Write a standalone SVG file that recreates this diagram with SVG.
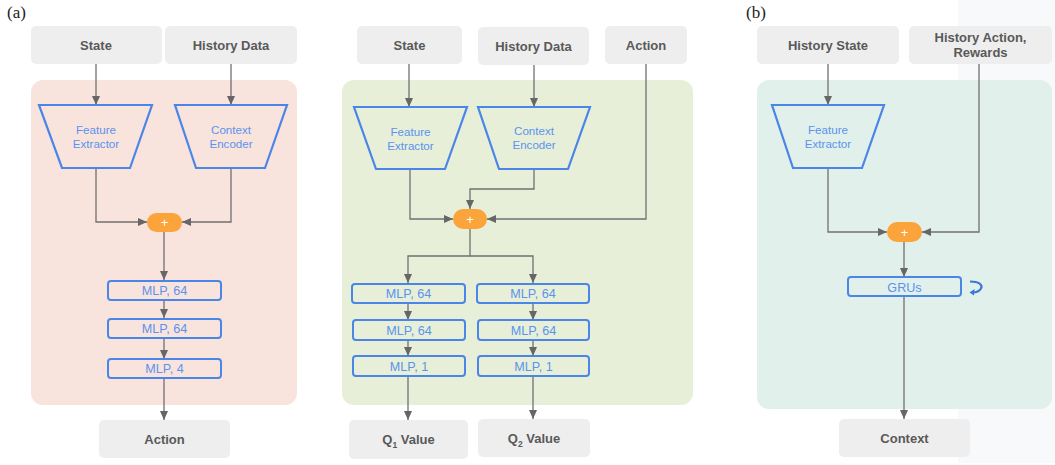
<svg xmlns="http://www.w3.org/2000/svg" width="1055" height="465" viewBox="0 0 1055 465">
<defs>
<marker id="ah" markerUnits="userSpaceOnUse" markerWidth="10" markerHeight="10" refX="9" refY="5" orient="auto">
<path d="M0,1 L9,5 L0,9 Z" fill="#666"/>
</marker>
<style>
.io{fill:#eeeeee;}
.iot{font-family:"Liberation Sans",Arial,sans-serif;font-weight:bold;font-size:13px;fill:#595959;text-anchor:middle;}
.trap{fill:none;stroke:#4a86e8;stroke-width:2.2;stroke-linejoin:miter;}
.bt{font-family:"Liberation Sans",Arial,sans-serif;font-size:11.6px;fill:#5b93ee;text-anchor:middle;}
.mlp{fill:none;stroke:#4a86e8;stroke-width:2;}
.mt{font-family:"Liberation Sans",Arial,sans-serif;font-size:12.6px;fill:#5b93ee;text-anchor:middle;}
.plus{fill:#fba43b;}
.pt{font-family:"Liberation Sans",Arial,sans-serif;font-size:13px;fill:#ffffff;text-anchor:middle;}
.c{fill:none;stroke:#707070;stroke-width:1.3;}
.lbl{font-family:"Liberation Serif","Times New Roman",serif;font-size:17px;fill:#222;}
</style>
</defs>
<rect x="0" y="0" width="1055" height="465" fill="#ffffff"/>
<rect x="958" y="0" width="97" height="463" fill="#f8f9fb"/>

<text class="lbl" x="7" y="18">(a)</text>
<text class="lbl" x="746" y="18">(b)</text>

<!-- panels -->
<g id="panel-actor"><rect x="31" y="80" width="266" height="325" rx="12" fill="#f9e3dd"/></g>
<g id="panel-critic"><rect x="342" y="80" width="351" height="325" rx="12" fill="#e7efd9"/></g>
<g id="panel-context"><rect x="757" y="80" width="295" height="329" rx="12" fill="#e1f0ea"/></g>

<!-- connectors -->
<g id="connectors">
<!-- actor -->
<line class="c" x1="96" y1="64" x2="96" y2="105" marker-end="url(#ah)"/>
<line class="c" x1="231" y1="64" x2="231" y2="105" marker-end="url(#ah)"/>
<polyline class="c" points="96,168 96,222 147,222" marker-end="url(#ah)"/>
<polyline class="c" points="231,168 231,222 182,222" marker-end="url(#ah)"/>
<line class="c" x1="164" y1="232" x2="164" y2="280" marker-end="url(#ah)"/>
<line class="c" x1="164" y1="300" x2="164" y2="318" marker-end="url(#ah)"/>
<line class="c" x1="164" y1="338" x2="164" y2="359" marker-end="url(#ah)"/>
<line class="c" x1="164" y1="378" x2="164" y2="420" marker-end="url(#ah)"/>
<!-- critic -->
<line class="c" x1="409" y1="64" x2="409" y2="107" marker-end="url(#ah)"/>
<line class="c" x1="534" y1="65" x2="534" y2="107" marker-end="url(#ah)"/>
<polyline class="c" points="410,169 410,219 453,219" marker-end="url(#ah)"/>
<polyline class="c" points="534,169 534,189 470,189 470,209" marker-end="url(#ah)"/>
<polyline class="c" points="646,64 646,219 487,219" marker-end="url(#ah)"/>
<polyline class="c" points="470,229 470,256 408,256 408,283" marker-end="url(#ah)"/>
<polyline class="c" points="470,256 533,256 533,283" marker-end="url(#ah)"/>
<line class="c" x1="408" y1="303" x2="408" y2="320" marker-end="url(#ah)"/>
<line class="c" x1="408" y1="340" x2="408" y2="356" marker-end="url(#ah)"/>
<line class="c" x1="408" y1="376" x2="408" y2="420" marker-end="url(#ah)"/>
<line class="c" x1="533" y1="303" x2="533" y2="320" marker-end="url(#ah)"/>
<line class="c" x1="533" y1="340" x2="533" y2="356" marker-end="url(#ah)"/>
<line class="c" x1="533" y1="376" x2="533" y2="419" marker-end="url(#ah)"/>
<!-- context -->
<line class="c" x1="828" y1="64" x2="828" y2="105" marker-end="url(#ah)"/>
<polyline class="c" points="828,168 828,232 887,232" marker-end="url(#ah)"/>
<polyline class="c" points="979,64 979,232 922,232" marker-end="url(#ah)"/>
<line class="c" x1="904" y1="242" x2="904" y2="277" marker-end="url(#ah)"/>
<line class="c" x1="904" y1="296" x2="904" y2="419" marker-end="url(#ah)"/>
</g>

<!-- actor nodes -->
<g id="a-state"><rect class="io" x="31" y="26" width="131" height="38" rx="5"/><text class="iot" x="96" y="50">State</text></g>
<g id="a-history"><rect class="io" x="165" y="26" width="132" height="38" rx="5"/><text class="iot" x="231" y="50">History Data</text></g>
<g id="a-feature"><polygon class="trap" points="39,105 152,105 130,168 62,168"/><text class="bt" x="96" y="134">Feature</text><text class="bt" x="96" y="148">Extractor</text></g>
<g id="a-context"><polygon class="trap" points="175,105 287,105 265,168 196,168"/><text class="bt" x="231" y="134">Context</text><text class="bt" x="231" y="148">Encoder</text></g>
<g id="a-plus"><rect class="plus" x="147" y="213" width="35" height="19" rx="9.5"/><text class="pt" x="164.5" y="227">+</text></g>
<g id="a-mlp1"><rect class="mlp" x="108" y="281" width="113" height="19" rx="3"/><text class="mt" x="164.5" y="295">MLP, 64</text></g>
<g id="a-mlp2"><rect class="mlp" x="108" y="319" width="113" height="19" rx="3"/><text class="mt" x="164.5" y="333">MLP, 64</text></g>
<g id="a-mlp3"><rect class="mlp" x="108" y="359" width="113" height="19" rx="3"/><text class="mt" x="164.5" y="373">MLP, 4</text></g>
<g id="a-action"><rect class="io" x="99" y="420" width="131" height="38" rx="5"/><text class="iot" x="164.5" y="444">Action</text></g>

<!-- critic nodes -->
<g id="c-state"><rect class="io" x="357" y="26" width="105" height="38" rx="5"/><text class="iot" x="409.5" y="50">State</text></g>
<g id="c-history"><rect class="io" x="478" y="27" width="111" height="38" rx="5"/><text class="iot" x="533.5" y="51">History Data</text></g>
<g id="c-action"><rect class="io" x="605" y="26" width="82" height="38" rx="5"/><text class="iot" x="646" y="50">Action</text></g>
<g id="c-feature"><polygon class="trap" points="354,107 467,107 445,169 376,169"/><text class="bt" x="410.5" y="136">Feature</text><text class="bt" x="410.5" y="150">Extractor</text></g>
<g id="c-context"><polygon class="trap" points="478,107 590,107 568,169 499,169"/><text class="bt" x="534" y="135">Context</text><text class="bt" x="534" y="149">Encoder</text></g>
<g id="c-plus"><rect class="plus" x="453" y="209" width="34" height="20" rx="10"/><text class="pt" x="470" y="224">+</text></g>
<g id="c-mlp1a"><rect class="mlp" x="352" y="284" width="113" height="19" rx="3"/><text class="mt" x="408.5" y="298">MLP, 64</text></g>
<g id="c-mlp2a"><rect class="mlp" x="353" y="320" width="112" height="20" rx="3"/><text class="mt" x="409" y="334.5">MLP, 64</text></g>
<g id="c-mlp3a"><rect class="mlp" x="353" y="356" width="112" height="20" rx="3"/><text class="mt" x="409" y="370.5">MLP, 1</text></g>
<g id="c-mlp1b"><rect class="mlp" x="477" y="284" width="112" height="19" rx="3"/><text class="mt" x="533" y="298">MLP, 64</text></g>
<g id="c-mlp2b"><rect class="mlp" x="478" y="320" width="111" height="20" rx="3"/><text class="mt" x="533.5" y="334.5">MLP, 64</text></g>
<g id="c-mlp3b"><rect class="mlp" x="478" y="356" width="111" height="20" rx="3"/><text class="mt" x="533.5" y="370.5">MLP, 1</text></g>
<g id="c-q1"><rect class="io" x="349" y="420" width="119" height="39" rx="5"/><text class="iot" x="408.5" y="444">Q<tspan font-size="8.5" dy="4">1</tspan><tspan dy="-4"> Value</tspan></text></g>
<g id="c-q2"><rect class="io" x="478" y="419" width="112" height="38" rx="5"/><text class="iot" x="534" y="443">Q<tspan font-size="8.5" dy="4">2</tspan><tspan dy="-4"> Value</tspan></text></g>

<!-- context encoder nodes -->
<g id="b-hstate"><rect class="io" x="757" y="26" width="142" height="38" rx="5"/><text class="iot" x="828" y="50">History State</text></g>
<g id="b-haction"><rect class="io" x="909" y="26" width="143" height="38" rx="5"/><text class="iot" x="980.5" y="42">History Action,</text><text class="iot" x="980.5" y="57">Rewards</text></g>
<g id="b-feature"><polygon class="trap" points="772,105 884,105 862,168 793,168"/><text class="bt" x="828" y="134">Feature</text><text class="bt" x="828" y="148">Extractor</text></g>
<g id="b-plus"><rect class="plus" x="887" y="222" width="35" height="20" rx="10"/><text class="pt" x="904.5" y="237">+</text></g>
<g id="b-gru"><rect class="mlp" x="848" y="277" width="113" height="19" rx="3"/><text class="mt" x="904.5" y="291.5" font-size="13">GRUs</text>
<path d="M970,281.5 C979,281.5 983,285 981,288.5 C979.5,291 976,292.5 972.5,292.5" fill="none" stroke="#3c78d8" stroke-width="2.2"/>
<path d="M969.5,292.5 L974.5,289 L974,295.5 Z" fill="#3c78d8"/></g>
<g id="b-context"><rect class="io" x="839" y="419" width="131" height="38" rx="5"/><text class="iot" x="904.5" y="443">Context</text></g>
</svg>
